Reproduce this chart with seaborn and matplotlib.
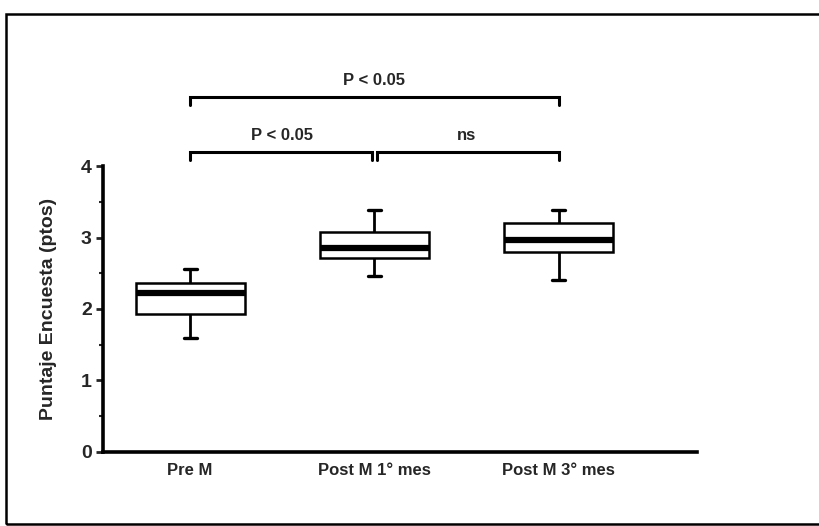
import matplotlib
matplotlib.use("Agg")
import matplotlib.pyplot as plt
import seaborn as sns
import pandas as pd
from matplotlib.patches import Rectangle

# Five-number summaries: [min, Q1, median, Q3, max]
categories = ["Pre M", "Post M 1° mes", "Post M 3° mes"]
pre_m = [1.59, 1.93, 2.23, 2.37, 2.56]
post_1 = [2.46, 2.72, 2.85, 3.07, 3.38]
post_3 = [2.40, 2.80, 2.97, 3.20, 3.38]
y_ticks = [0, 1, 2, 3, 4]
y_label = "Puntaje Encuesta (ptos)"
brackets = [(0, 2, "P < 0.05"), (0, 1, "P < 0.05"), (1, 2, "ns")]

sns.set_theme(style="white")
FONT = ["Liberation Sans", "DejaVu Sans"]
plt.rcParams["font.family"] = FONT

rows = []
for cat, vals in zip(categories, [pre_m, post_1, post_3]):
    for v in vals:
        rows.append({"grupo": cat, "puntaje": v})
df = pd.DataFrame(rows)

fig = plt.figure(figsize=(8.2, 5.26), dpi=100)
ax = fig.add_axes([0.1256, 0.1407, 0.7244, 0.5437])

sns.boxplot(data=df, x="grupo", y="puntaje", order=categories, ax=ax,
            whis=(0, 100), width=0.59, color="white", linecolor="black",
            linewidth=1.8, showfliers=False, capwidths=0.07,
            medianprops=dict(linewidth=4.5, color="black"),
            capprops=dict(linewidth=2.4, color="black"),
            whiskerprops=dict(linewidth=2.0, color="black"))

ax.set_ylim(0, 4)
ax.set_xlim(-0.473, 2.75)
ax.set_yticks(y_ticks)
ax.set_yticks([0.5, 1.5, 2.5, 3.5], minor=True)
ax.set_xlabel("")
ax.set_ylabel(y_label, fontsize=14, fontweight="bold", labelpad=17)
for s in ["top", "right"]:
    ax.spines[s].set_visible(False)
for s in ["left", "bottom"]:
    ax.spines[s].set_linewidth(2.6)
    ax.spines[s].set_color("black")
ax.tick_params(axis="y", which="major", left=True, length=5, width=2,
               labelsize=14, pad=3)
ax.tick_params(axis="y", which="minor", left=True, length=3, width=1.5)
ax.tick_params(axis="x", bottom=False, labelsize=12, pad=2)
for lab in ax.get_yticklabels() + ax.get_xticklabels():
    lab.set_fontweight("bold")

# significance brackets
levels = {(0, 2): 4.97, (0, 1): 4.20, (1, 2): 4.20}
for a, b, txt in brackets:
    y = levels[(a, b)]
    xa = a + (0.0 if a == 0 else 0.012)
    xb = b - (0.012 if (b == 1) else 0.0)
    ax.plot([xa, xa, xb, xb], [y - 0.11, y, y, y - 0.11], color="black",
            lw=2.2, clip_on=False, solid_joinstyle="miter")
    ax.text((a + b) / 2, y + 0.12, txt, ha="center", va="bottom",
            fontsize=12, fontweight="bold", clip_on=False)

# outer frame
fig.patches.append(Rectangle((6 / 820, 2 / 526), 1.2, 1 - 16 / 526,
                             transform=fig.transFigure, fill=False,
                             edgecolor="black", lw=1.8))

fig.savefig("out.png", dpi=100, facecolor="white")
